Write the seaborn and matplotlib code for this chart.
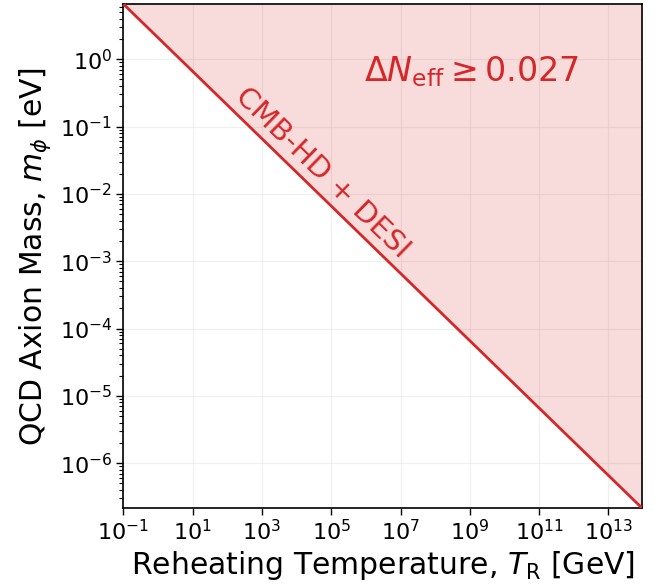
import numpy as np
import pandas as pd
import matplotlib
matplotlib.use("Agg")
import matplotlib.pyplot as plt
import matplotlib.ticker as mticker
import seaborn as sns

# Reheating temperature [GeV] and the corresponding QCD axion mass bound [eV]
reheat_temp = [1e-1, 9.5e13]
axion_mass = [6.6, 2.14e-7]

# x tick positions: every second decade
x_tick_values = [1e-1, 1e1, 1e3, 1e5, 1e7, 1e9, 1e11, 1e13]

x_limits = (reheat_temp[0], reheat_temp[1])
y_limits = (axion_mass[1], axion_mass[0])

line_color = "#d62728"

sns.set_theme(style="ticks")
plt.rcParams["font.family"] = ["DejaVu Sans"]
plt.rcParams["mathtext.fontset"] = "dejavusans"
plt.rcParams.update({
    "text.color": "black",
    "axes.labelcolor": "black",
    "xtick.color": "black",
    "ytick.color": "black",
    "axes.edgecolor": "black",
})

fig = plt.figure(figsize=(6.62, 5.84), dpi=100)
ax = fig.add_axes([0.1863, 0.1296, 0.7839, 0.8636])

df = pd.DataFrame({"T_R": reheat_temp, "m_phi": axion_mass})

ax.set_xscale("log")
ax.set_yscale("log")

ax.fill_between(df["T_R"], df["m_phi"], y_limits[1] * 10,
                color=line_color, alpha=0.16, linewidth=0, zorder=1)
sns.lineplot(data=df, x="T_R", y="m_phi", ax=ax, color=line_color,
             linewidth=2, zorder=3)

ax.set_xlim(*x_limits)
ax.set_ylim(*y_limits)

ax.xaxis.set_major_locator(mticker.FixedLocator(x_tick_values))
ax.xaxis.set_major_formatter(mticker.LogFormatterSciNotation())
ax.xaxis.set_minor_locator(mticker.NullLocator())
ax.yaxis.set_major_locator(mticker.LogLocator(base=10, numticks=20))

ax.grid(True, which="major", color="#e6e6e6", linewidth=0.9, alpha=0.6, zorder=0)
ax.set_axisbelow(True)

for s in ax.spines.values():
    s.set_linewidth(1.2)

ax.tick_params(axis="both", which="major", labelsize=16, length=5, width=1,
               direction="out", pad=3)
ax.tick_params(axis="both", which="minor", length=3, width=0.8,
               direction="out")

ax.set_xlabel(r"Reheating Temperature, $T_{\rm R}$ [GeV]", fontsize=21.5, labelpad=3)
ax.set_ylabel(r"QCD Axion Mass, $m_\phi$ [eV]", fontsize=21.5, labelpad=5)

ax.text(0.672, 0.865, r"$\Delta N_{\rm eff} \geq 0.027$", transform=ax.transAxes,
        fontsize=24, color=line_color, ha="center", va="center")

ax.text(0.383, 0.665, "CMB-HD + DESI", transform=ax.transAxes, fontsize=21,
        color=line_color, ha="center", va="center", rotation=-44.2,
        rotation_mode="anchor")

fig.savefig("out.png", dpi=100)
